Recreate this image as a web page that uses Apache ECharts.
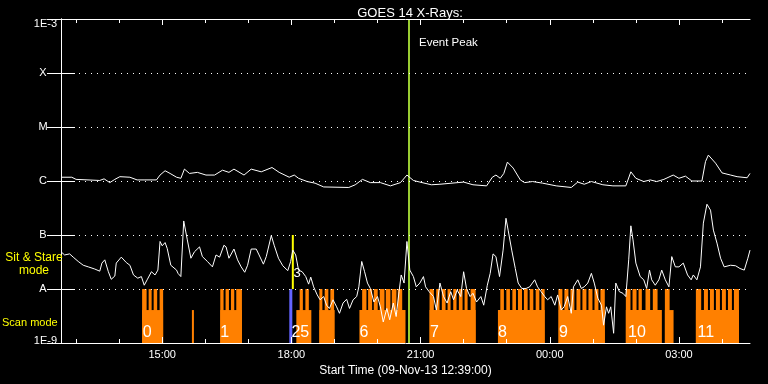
<!DOCTYPE html>
<html><head><meta charset="utf-8">
<script src="https://cdn.jsdelivr.net/npm/echarts@6/dist/echarts.min.js"></script>
<style>html,body{margin:0;padding:0;background:#000;}#c{width:768px;height:384px;}</style>
</head><body><div id="c"></div>
<script>
// Time in minutes since start (09-Nov-13 12:39:00); flux as log10(W/m^2)
const hourTicks = [21,81,141,201,261,321,381,441,501,561,621,681,741,801,861,921];
const majorTicks = [141,321,501,681,861];
const majorLabels = ['15:00','18:00','21:00','00:00','03:00'];
const yTickValues = [-9,-8,-7,-6,-5,-4,-3];
const yTickLabels = ['1E-9','A','B','C','M','X','1E-3'];

const longChannel = [
[0,-5.93],[15,-5.93],[21,-5.97],[54,-5.99],[60,-5.96],[68,-6.03],[75,-5.97],[82,-5.92],[96,-5.93],[106,-5.98],[117,-5.98],[133,-5.98],[138,-5.89],[145,-5.81],[152,-5.86],[161,-5.93],[167,-5.95],[172,-5.78],[179,-5.86],[190,-5.84],[202,-5.89],[214,-5.89],[225,-5.80],[234,-5.84],[241,-5.78],[255,-5.89],[265,-5.78],[279,-5.83],[294,-5.75],[304,-5.84],[318,-5.93],[325,-5.89],[331,-5.95],[343,-6.01],[354,-6.04],[366,-6.11],[401,-6.12],[410,-6.07],[420,-5.97],[431,-6.03],[445,-6.03],[459,-6.09],[473,-6.03],[482,-5.89],[484,-5.86],[491,-5.99],[500,-6.02],[516,-6.07],[528,-6.06],[561,-6.02],[574,-6.07],[593,-6.09],[601,-5.93],[606,-5.89],[612,-5.95],[617,-5.86],[622,-5.65],[630,-5.76],[640,-5.98],[646,-6.03],[657,-6.01],[671,-6.04],[690,-6.09],[711,-6.12],[720,-6.02],[729,-6.06],[739,-6.01],[755,-6.07],[769,-6.09],[787,-6.09],[794,-5.83],[801,-5.95],[812,-6.01],[821,-5.98],[830,-6.01],[840,-5.97],[853,-5.89],[861,-5.95],[870,-5.91],[879,-6.00],[893,-6.00],[898,-5.64],[902,-5.52],[912,-5.67],[921,-5.85],[933,-5.89],[942,-5.92],[956,-5.94],[960,-5.86]
];

const shortChannel = [
[0,-7.31],[5,-7.37],[12,-7.35],[17,-7.41],[24,-7.49],[31,-7.56],[38,-7.59],[47,-7.63],[54,-7.67],[57,-7.52],[61,-7.46],[66,-7.68],[70,-7.82],[75,-7.76],[77,-7.52],[84,-7.41],[91,-7.51],[96,-7.56],[101,-7.74],[107,-7.80],[112,-7.77],[116,-7.93],[120,-7.83],[126,-7.68],[131,-7.74],[135,-7.65],[138,-7.12],[141,-7.20],[145,-7.14],[148,-7.25],[153,-7.56],[161,-7.65],[163,-7.71],[167,-7.77],[171,-6.74],[176,-7.09],[181,-7.43],[186,-7.31],[193,-7.22],[197,-7.40],[204,-7.49],[211,-7.59],[216,-7.37],[221,-7.41],[227,-7.19],[230,-7.22],[234,-7.43],[241,-7.26],[246,-7.46],[251,-7.59],[256,-7.69],[260,-7.56],[265,-7.26],[272,-7.26],[276,-7.37],[282,-7.54],[286,-7.40],[293,-7.01],[297,-7.19],[303,-7.43],[309,-7.57],[316,-7.66],[320,-7.49],[323,-7.28],[327,-7.37],[331,-7.65],[336,-7.68],[341,-7.77],[345,-7.91],[348,-7.78],[352,-7.96],[357,-8.11],[361,-8.20],[366,-8.14],[370,-8.30],[374,-8.36],[379,-8.20],[384,-8.33],[388,-8.45],[393,-8.26],[398,-8.19],[402,-8.36],[407,-8.20],[412,-8.14],[415,-7.96],[419,-7.49],[423,-7.68],[427,-7.89],[431,-7.99],[436,-8.24],[441,-8.14],[445,-8.33],[449,-8.61],[454,-8.36],[458,-8.57],[463,-8.26],[467,-8.51],[471,-8.05],[474,-7.74],[478,-7.89],[482,-7.12],[486,-7.65],[491,-7.77],[495,-7.96],[500,-7.89],[505,-7.77],[508,-7.96],[513,-8.05],[519,-8.14],[523,-8.39],[528,-7.89],[533,-8.14],[538,-8.26],[543,-8.05],[547,-8.20],[552,-8.02],[557,-8.14],[561,-7.68],[565,-7.99],[570,-8.14],[574,-8.08],[579,-8.24],[585,-8.14],[589,-8.30],[594,-7.93],[598,-7.71],[602,-7.35],[606,-7.40],[611,-7.77],[616,-7.28],[620,-6.69],[623,-6.91],[628,-7.28],[633,-7.62],[637,-7.89],[642,-7.99],[648,-7.99],[653,-7.96],[660,-7.83],[664,-7.96],[669,-8.05],[674,-8.14],[678,-8.20],[683,-8.14],[688,-8.30],[692,-8.11],[697,-8.39],[701,-8.33],[706,-8.14],[711,-8.45],[714,-7.96],[720,-7.83],[725,-7.99],[729,-7.96],[734,-7.89],[739,-7.71],[743,-7.89],[748,-8.17],[753,-8.30],[756,-8.67],[760,-8.33],[763,-8.45],[766,-8.33],[770,-8.82],[773,-7.89],[778,-8.05],[783,-8.08],[787,-8.14],[791,-7.46],[794,-6.83],[797,-7.09],[801,-7.52],[807,-7.77],[812,-7.83],[816,-7.99],[820,-7.65],[823,-7.83],[828,-7.93],[833,-7.83],[837,-7.65],[842,-7.83],[847,-7.96],[851,-7.40],[856,-7.59],[861,-7.59],[867,-7.52],[873,-7.74],[878,-7.83],[881,-7.74],[886,-7.83],[891,-7.59],[895,-6.78],[900,-6.43],[905,-6.54],[909,-6.91],[914,-7.15],[919,-7.43],[924,-7.59],[933,-7.56],[940,-7.57],[946,-7.62],[952,-7.65],[957,-7.43],[960,-7.28]
];

// Scan-mode intervals [start, end] in minutes
const scanBases = [[113,142.3],[182.4,185.2],[221.9,252.1],[327.9,348.8],[360,381.3],[415.8,480],[513.5,577.7],[608.8,673.9],[693.5,757.7],[787,837.2],[841.4,853.5],[884.6,944.6]];
const scanTeeth = [
[113,119.3],[122.1,126.3],[129.1,134],[137.4,142.3],
[221.9,226.5],[229.3,234],[236.8,241.4],[244.2,252.1],
[332.5,337],[340.5,345.3],
[360,364.2],[367.4,372.5],[375.3,380.5],
[419.6,425.6],[427.9,433.5],[435.8,441.3],[444.1,450.7],[452.5,459],[460.9,467.4],[469.2,475.4],
[513.5,519.5],[522.8,527.4],[530.6,535.8],[538.6,542.8],[546.5,551.1],[554.4,559.5],[562.3,566.5],[570.7,577.7],
[612.1,617.1],[620.5,625.5],[628.9,633.9],[636.7,642.3],[645,650.2],[653,658.1],[661.4,666.5],[669.3,673.9],
[693,698.6],[701.4,707],[709.8,715.3],[718.2,723.7],[726.5,732.1],[734.9,740.5],[743.3,748.8],[751.6,757.7],
[787,793.5],[796.3,801.9],[804.7,809.3],[814.4,820.9],[824.6,831.2],
[841.4,848],
[884.6,892],[895.8,901.4],[904.2,909.7],[912.5,918.1],[920.9,926.4],[929.3,934.8],[937.6,944.6]
];
const scanBaseLevel = -8.39;
const scanTopLevel = -8;
const scanLabels = ['0','1','25','6','7','8','9','10','11'];
const scanLabelTimes = [114,222,321,416,514,609,694,790,887];
const scanLabelLevel = -8.80;

const sitStareBlue = [[318.1,322.3]];   // from 1E-9 to A
const sitStareYellow = [[323,-8,-7]];    // marker line
const sitStareLabels = ['3'];
const sitStareLabelPos = [[324,-7.72]];
const eventPeakTime = 484.2;

const chart = echarts.init(document.getElementById('c'), null, {renderer:'canvas'});
const white = '#ffffff';
const orange = '#ff8000';

function rectItem(color, bottomLevel, topLevel) {
  return function(params, api) {
    const p0 = api.coord([api.value(0), bottomLevel]);
    const p1 = api.coord([api.value(1), topLevel]);
    return {type:'rect', shape:{x:p0[0], y:p1[1], width:p1[0]-p0[0], height:p0[1]-p1[1]}, style:{fill:color}};
  };
}

const xCommon = {type:'value', min:0, max:960, splitLine:{show:false}, z:10};
const option = {
  backgroundColor:'#000',
  animation:false,
  title:{text:'GOES 14 X-Rays:', left:405, top:2, textAlign:'center',
    textStyle:{color:white, fontSize:13, fontWeight:'normal', fontFamily:'Liberation Sans'}},
  grid:{left:61, right:18, top:19, bottom:41, containLabel:false},
  xAxis:[
    Object.assign({}, xCommon, {position:'bottom',
      axisLine:{show:true, lineStyle:{color:white, width:1}},
      axisTick:{show:true, inside:true, length:6, customValues:majorTicks, lineStyle:{color:white}},
      axisLabel:{show:true, customValues:majorTicks, color:white, fontSize:11, fontFamily:'Liberation Sans', margin:6,
        formatter:function(v){ const i = majorTicks.indexOf(v); return i>=0 ? majorLabels[i] : ''; }},
      name:'Start Time (09-Nov-13 12:39:00)', nameLocation:'middle', nameGap:18,
      nameTextStyle:{color:white, fontSize:12, fontFamily:'Liberation Sans'}}),
    Object.assign({}, xCommon, {position:'bottom',
      axisLine:{show:false}, axisLabel:{show:false},
      axisTick:{show:true, inside:true, length:4, customValues:hourTicks, lineStyle:{color:white}}}),
    Object.assign({}, xCommon, {position:'top',
      axisLine:{show:true, lineStyle:{color:white, width:1}}, axisLabel:{show:false},
      axisTick:{show:true, inside:true, length:6, customValues:majorTicks, lineStyle:{color:white}}}),
    Object.assign({}, xCommon, {position:'top',
      axisLine:{show:false}, axisLabel:{show:false},
      axisTick:{show:true, inside:true, length:4, customValues:hourTicks, lineStyle:{color:white}}})
  ],
  yAxis:[
    {type:'value', min:-9, max:-3, interval:1, position:'left', z:10,
      axisLine:{show:true, lineStyle:{color:white, width:1}},
      axisTick:{show:true, inside:true, length:14, lineStyle:{color:white}},
      splitLine:{show:true, lineStyle:{color:white, width:1, type:[1,5]}},
      axisLabel:{show:true, margin:4, color:white, fontSize:11, fontFamily:'Liberation Sans',
        formatter:function(v){
          const i = yTickValues.indexOf(v); const t = i>=0 ? yTickLabels[i] : '';
          if (v === -3) return '{top|' + t + '}';
          if (v === -9) return '{bot|' + t + '}';
          return '{c|' + t + '}';
        },
        rich:{
          c:{width:28, align:'center', color:white, fontSize:11, fontFamily:'Liberation Sans'},
          top:{padding:[10,0,0,0], color:white, fontSize:11, fontFamily:'Liberation Sans'},
          bot:{padding:[0,0,4,0], color:white, fontSize:11, fontFamily:'Liberation Sans'}
        }}},
    {type:'value', min:-9, max:-3, interval:1, position:'right', z:10,
      axisLine:{show:true, lineStyle:{color:white, width:1}},
      axisTick:{show:true, inside:true, length:14, lineStyle:{color:white, width:1}},
      splitLine:{show:false}, axisLabel:{show:false}}
  ],
  graphic:[
    {type:'text', x:34, y:251, style:{text:'Sit & Stare\nmode', fill:'#ffff00', fontSize:12, fontFamily:'Liberation Sans', align:'center', verticalAlign:'top', lineHeight:13}, z:20},
    {type:'text', x:2, y:323, style:{text:'Scan mode', fill:'#ffff00', fontSize:11, fontFamily:'Liberation Sans', align:'left', verticalAlign:'middle'}, z:20},
    {type:'text', x:419, y:43, style:{text:'Event Peak', fill:white, fontSize:11.5, fontFamily:'Liberation Sans', align:'left', verticalAlign:'middle'}, z:20}
  ],
  series:[
    {type:'custom', name:'scanBase', xAxisIndex:0, yAxisIndex:0, data:scanBases, renderItem:rectItem(orange, -9, scanBaseLevel), z:1, silent:true},
    {type:'custom', name:'scanTeeth', xAxisIndex:0, yAxisIndex:0, data:scanTeeth, renderItem:rectItem(orange, -9, scanTopLevel), z:1, silent:true},
    {type:'custom', name:'sitStare', xAxisIndex:0, yAxisIndex:0, data:sitStareBlue, renderItem:rectItem('#6464ff', -9, -8), z:1, silent:true},
    {type:'custom', name:'sitStareMarker', xAxisIndex:0, yAxisIndex:1, data:sitStareYellow, z:3, silent:true,
      renderItem:function(params, api){
        const a = api.coord([api.value(0), api.value(1)]);
        const b = api.coord([api.value(0), api.value(2)]);
        return {type:'line', shape:{x1:a[0], y1:a[1], x2:b[0], y2:b[1]}, style:{stroke:'#ffff00', lineWidth:2}};
      }},
    {type:'custom', name:'sitStareLabels', xAxisIndex:0, yAxisIndex:1, data:sitStareLabelPos, z:4, silent:true,
      renderItem:function(params, api){
        const p = api.coord([api.value(0), api.value(1)]);
        return {type:'text', x:p[0], y:p[1], style:{text:sitStareLabels[params.dataIndex], fill:white, fontSize:13, fontFamily:'Liberation Sans', align:'left', verticalAlign:'middle'}};
      }},
    {type:'custom', name:'scanLabels', xAxisIndex:0, yAxisIndex:0, data:scanLabelTimes.map(function(t){return [t];}), z:4, silent:true,
      renderItem:function(params, api){
        const p = api.coord([api.value(0), scanLabelLevel]);
        return {type:'text', x:p[0], y:p[1], style:{text:scanLabels[params.dataIndex], fill:white, fontSize:16, fontFamily:'Liberation Sans', align:'left', verticalAlign:'middle'}};
      }},
    {type:'line', name:'0.5-4.0 A', xAxisIndex:0, yAxisIndex:0, data:shortChannel, showSymbol:false, lineStyle:{color:white, width:1}, z:5, silent:true},
    {type:'line', name:'1.0-8.0 A', xAxisIndex:0, yAxisIndex:0, data:longChannel, showSymbol:false, lineStyle:{color:white, width:1}, z:5, silent:true,
      markLine:{symbol:'none', silent:true, label:{show:false}, lineStyle:{color:'#9acd32', width:2, type:'solid'},
        data:[{xAxis:eventPeakTime}]}}
  ]
};
chart.setOption(option);
</script></body></html>
